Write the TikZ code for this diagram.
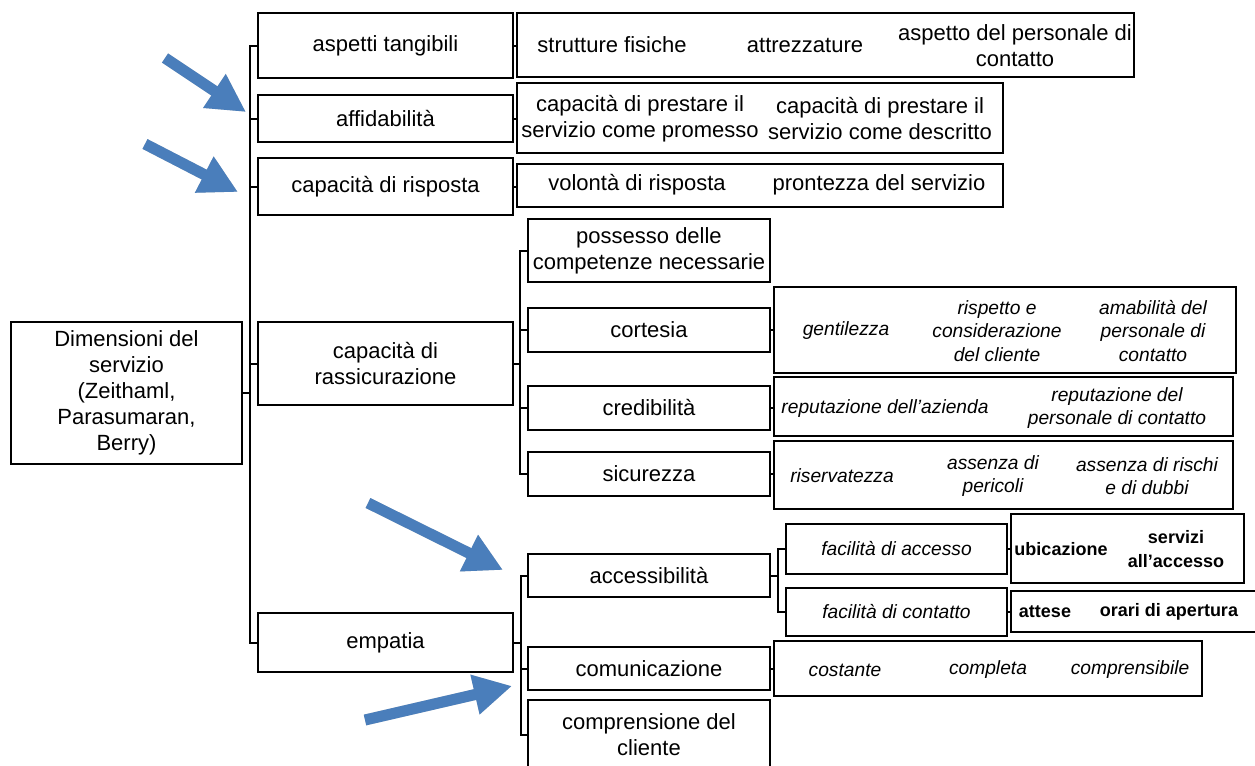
\documentclass[tikz,border=0pt]{standalone}
\usepackage{fontspec}
\setmainfont{Liberation Sans}
\usepackage{tikz}
\usetikzlibrary{arrows.meta}
\definecolor{arrowblue}{RGB}{74,126,187}

\begin{document}
\begin{tikzpicture}[x=0.5pt,y=-0.5pt,line width=1pt]
\tikzstyle{box}=[rectangle,draw=black,fill=white,inner sep=0pt,align=center,font=\fontsize{11}{13}\selectfont]
\tikzstyle{item}=[align=center,inner sep=0pt,font=\fontsize{11}{13}\selectfont]
\tikzstyle{itemit}=[align=center,inner sep=0pt,font=\fontsize{9.6}{11.75}\selectfont\itshape]
\tikzstyle{itembf}=[align=center,inner sep=0pt,font=\fontsize{9}{12}\selectfont\bfseries]
\tikzstyle{bluearrow}=[-{Triangle[length=19pt,width=19pt]},line width=5.5pt,draw=arrowblue]
\tikzstyle{arrowshadow}=[bluearrow,draw=black,opacity=0.18,shift={(3,5)}]
\fill[white] (0,0) rectangle (1255,766);
\useasboundingbox (0,0) rectangle (1255,766);

% root and first level
\node[box,minimum width=115.5pt,minimum height=71pt] (root) at (126.5,393) {Dimensioni del\\servizio\\(Zeithaml,\\Parasumaran,\\Berry)};
\node[box,minimum width=127.5pt,minimum height=32.5pt] (tang) at (385.5,45.5) {aspetti tangibili};
\node[box,minimum width=127.5pt,minimum height=23.5pt] (affid) at (385.5,118.5) {affidabilità};
\node[box,minimum width=127.5pt,minimum height=28.5pt] (risp) at (385.5,186.5) {capacità di risposta};
\node[box,minimum width=127.5pt,minimum height=41.5pt] (rass) at (385.5,363.5) {capacità di\\rassicurazione};
\node[box,minimum width=127.5pt,minimum height=29.5pt] (emp) at (385.5,642.5) {empatia};

% details of the first three
\node[box,minimum width=308.5pt,minimum height=32pt] (tangd) at (825.5,45) {};
\node[item] (strut) at (612,45) {strutture fisiche};
\node[item] (attr) at (805,45) {attrezzature};
\node[item] (asp) at (1015,46) {aspetto del personale di\\contatto};
\node[box,minimum width=243pt,minimum height=35pt] (affidd) at (760,118) {};
\node[item] (prom) at (640,119) {capacità di prestare il\\servizio come promesso};
\node[item] (descr) at (880,119) {capacità di prestare il\\servizio come descritto};
\node[box,minimum width=243pt,minimum height=21.5pt] (rispd) at (760,185.5) {};
\node[item] (volo) at (637,185) {volontà di risposta};
\node[item] (pront) at (879,185) {prontezza del servizio};

% rassicurazione
\node[box,minimum width=121pt,minimum height=31.5pt] (poss) at (649,250.5) {possesso delle\\competenze necessarie};
\node[box,minimum width=121pt,minimum height=22pt] (cort) at (649,330) {cortesia};
\node[box,minimum width=121pt,minimum height=22pt] (cred) at (649,408) {credibilità};
\node[box,minimum width=121pt,minimum height=22pt] (sic) at (649,474) {sicurezza};
\node[box,minimum width=231pt,minimum height=43pt] (cortd) at (1005,330) {};
\node[itemit] (gent) at (846,331) {gentilezza};
\node[itemit] (risp2) at (997,331) {rispetto e\\considerazione\\del cliente};
\node[itemit] (amab) at (1153,331) {amabilità del\\personale di\\contatto};
\node[box,minimum width=229.5pt,minimum height=29.5pt] (credd) at (1003.5,406.5) {};
\node[itemit] (repaz) at (885,409) {reputazione dell’azienda};
\node[itemit] (reppers) at (1117,408) {reputazione del\\personale di contatto};
\node[box,minimum width=229.5pt,minimum height=34pt] (sicd) at (1003.5,475) {};
\node[itemit] (riserv) at (842,476) {riservatezza};
\node[itemit] (peric) at (993,476) {assenza di\\pericoli};
\node[itemit] (rischi) at (1147,476) {assenza di rischi\\e di dubbi};

% empatia
\node[box,minimum width=121pt,minimum height=21.5pt] (acc) at (649,575.5) {accessibilità};
\node[box,minimum width=121pt,minimum height=21.5pt] (com) at (649,668.5) {comunicazione};
\node[box,minimum width=121pt,minimum height=35pt] (compr) at (649,735) {comprensione del\\cliente};
\node[box,minimum width=110.5pt,minimum height=25pt,font=\fontsize{9.6}{11.75}\selectfont\itshape] (facc) at (896.5,549) {facilità di accesso};
\node[box,minimum width=110.5pt,minimum height=24pt,font=\fontsize{9.6}{11.75}\selectfont\itshape] (fcont) at (896.5,612) {facilità di contatto};
\node[box,minimum width=116.5pt,minimum height=34.5pt] (faccd) at (1127.5,548.5) {};
\node[itembf] (ubic) at (1061,549) {ubicazione};
\node[itembf] (servacc) at (1176,549) {servizi\\all’accesso};
\node[box,minimum width=122.5pt,minimum height=20.5pt] (fcontd) at (1133.5,611.5) {};
\node[itembf] (att) at (1045,612) {attese};
\node[itembf] (orari) at (1169,612) {orari di apertura};
\node[box,minimum width=214pt,minimum height=27.5pt] (comd) at (988,668.5) {};
\node[itemit] (cost) at (845,670) {costante};
\node[itemit] (compl) at (988,670) {completa};
\node[itemit] (comprens) at (1130,670) {comprensibile};

% connectors
\coordinate (trunk) at (250,393);
\coordinate (rassj) at (520,363.5);
\coordinate (empj) at (521,642.5);
\coordinate (accj) at (778,575.5);
\draw (root.east) -- (trunk);
\foreach \n in {tang,affid,risp,rass,emp}
  \draw (trunk) |- (\n.west);
\draw (rass.east) -- (rassj);
\foreach \n in {poss,cort,cred,sic}
  \draw (rassj) |- (\n.west);
\draw (emp.east) -- (empj);
\foreach \n in {acc,com,compr}
  \draw (empj) |- (\n.west);
\draw (acc.east) -- (accj);
\foreach \n in {facc,fcont}
  \draw (accj) |- (\n.west);
\draw (tang.east) -- (tang.east -| tangd.west);
\draw (affid.east) -- (affid.east -| affidd.west);
\draw (risp.east) -- (risp.east -| rispd.west);
\draw (cort.east) -- (cort.east -| cortd.west);
\draw (cred.east) -- (cred.east -| credd.west);
\draw (sic.east) -- (sic.east -| sicd.west);
\draw (com.east) -- (com.east -| comd.west);
\draw (facc.east) -- (facc.east -| faccd.west);
\draw (fcont.east) -- (fcont.east -| fcontd.west);

% blue arrows
\coordinate (a1s) at (165,58);
\coordinate (a1e) at (246,112);
\coordinate (a2s) at (145,144);
\coordinate (a2e) at (238,192);
\coordinate (a3s) at (368,503);
\coordinate (a3e) at (503,570);
\coordinate (a4s) at (365,720);
\coordinate (a4e) at (512,686);
\foreach \a in {1,2,3,4}
  \draw[arrowshadow] (a\a s) -- (a\a e);
\foreach \a in {1,2,3,4}
  \draw[bluearrow] (a\a s) -- (a\a e);
\end{tikzpicture}
\end{document}
